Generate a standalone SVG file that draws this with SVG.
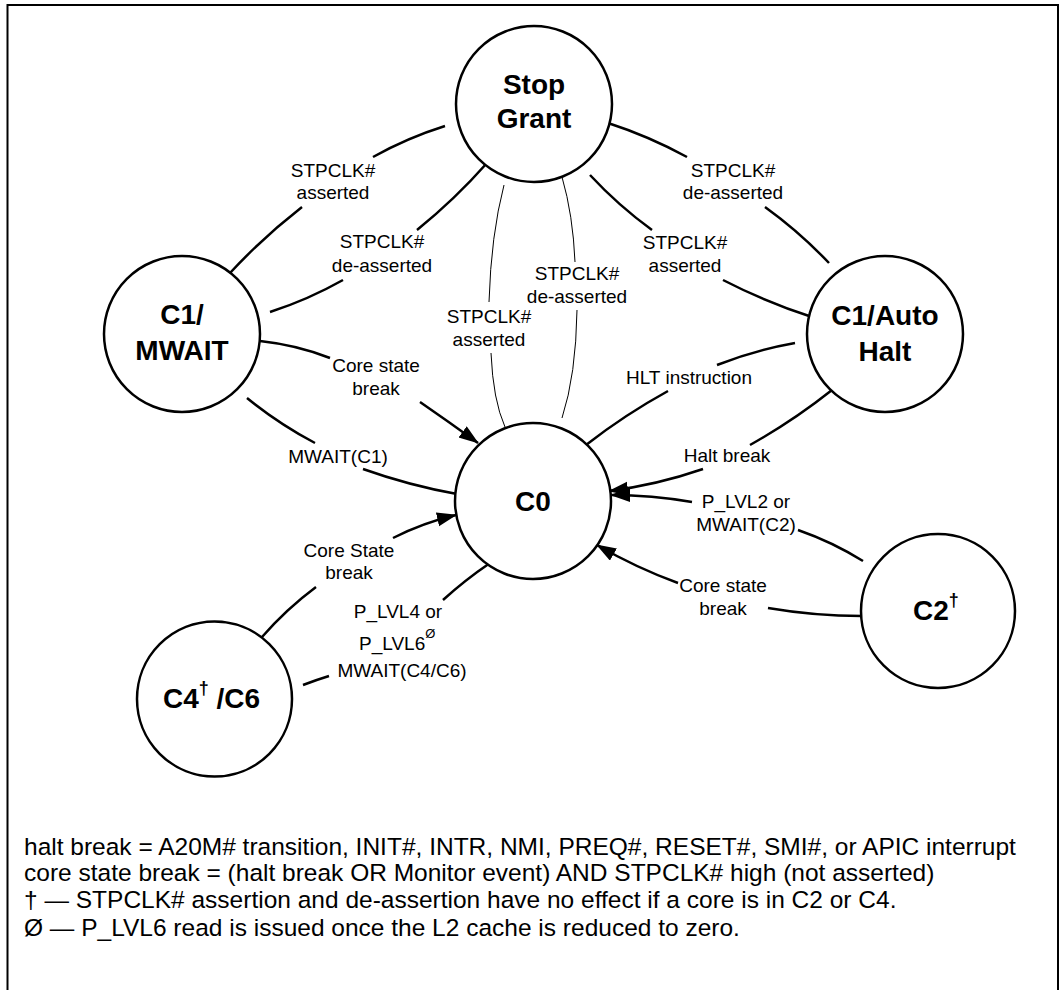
<svg xmlns="http://www.w3.org/2000/svg" width="1060" height="990" viewBox="0 0 1060 990">
<defs>
<marker id="arr" markerUnits="userSpaceOnUse" markerWidth="22" markerHeight="16" viewBox="0 0 22 16" refX="19" refY="7" orient="auto"><path d="M0,0 L20,7 L0,14 z" fill="#000"/></marker>
<style>
.node{fill:#fff;stroke:#000;stroke-width:2.5}
.nt{font-family:"Liberation Sans",Arial,sans-serif;font-weight:bold;font-size:28px;text-anchor:middle;fill:#000}
.c{fill:none;stroke:#000;stroke-width:2.5}
.thin{fill:none;stroke:#000;stroke-width:1}
.lb{font-family:"Liberation Sans",Arial,sans-serif;font-size:19px;text-anchor:middle;fill:#000}
.note{font-family:"Liberation Sans",Arial,sans-serif;font-size:24.5px;fill:#000}
</style>
</defs>
<rect width="1060" height="990" fill="#fff"/>
<path d="M7.5,996 V5 H1058 V996" fill="none" stroke="#000" stroke-width="2"/>

<g id="connectors">
<g id="e-stop-c1mwait-asserted">
<path class="c" d="M445,126 Q407.4,137.8 373,157"/><path class="c" d="M302,207 Q263.3,237.1 230,273"/>
<text class="lb" x="333" y="177">STPCLK#</text><text class="lb" x="333" y="199">asserted</text>
</g>
<g id="e-c1mwait-stop-deasserted">
<path class="c" d="M487,163 Q454.8,199.4 417,230"/><path class="c" d="M343,280 Q308.1,299.7 270,312"/>
<text class="lb" x="382" y="248">STPCLK#</text><text class="lb" x="382" y="272">de-asserted</text>
</g>
<g id="e-stop-c1halt-deasserted">
<path class="c" d="M608,123 Q649.1,136.3 687,157"/><path class="c" d="M765,207 Q799.6,232 829,263"/>
<text class="lb" x="733" y="177">STPCLK#</text><text class="lb" x="733" y="199">de-asserted</text>
</g>
<g id="e-c1halt-stop-asserted">
<path class="c" d="M590,175 Q618.3,205.5 652,230"/><path class="c" d="M723,280 Q766,302.2 812,317"/>
<text class="lb" x="685" y="249">STPCLK#</text><text class="lb" x="685" y="272">asserted</text>
</g>
<g id="e-c0-stop-asserted">
<path class="thin" d="M504,185 Q491,235 489,302"/><path class="thin" d="M491,353 Q493,400 505,427"/>
<text class="lb" x="489" y="323">STPCLK#</text><text class="lb" x="489" y="346">asserted</text>
</g>
<g id="e-stop-c0-deasserted">
<path class="thin" d="M562,177 Q573,215 575,262"/><path class="thin" d="M577,310 Q576,375 562,418"/>
<text class="lb" x="577" y="280">STPCLK#</text><text class="lb" x="577" y="303">de-asserted</text>
</g>
<g id="e-c1mwait-c0-break">
<path class="c" d="M260,341 Q297,345 330,358"/><path class="c" d="M420,402 Q449,422 478,443" marker-end="url(#arr)"/>
<text class="lb" x="376" y="372">Core state</text><text class="lb" x="376" y="395">break</text>
</g>
<g id="e-c0-c1mwait-mwait">
<path class="c" d="M247,398 Q278.8,423.8 315,443"/><path class="c" d="M363,469 Q409,485.4 457,494"/>
<text class="lb" x="338" y="463">MWAIT(C1)</text>
</g>
<g id="e-c4-c0-break">
<path class="c" d="M262,637 Q286.3,609.1 316,587"/><path class="c" d="M393,538 Q423.1,522.7 456,515" marker-end="url(#arr)"/>
<text class="lb" x="349" y="557">Core State</text><text class="lb" x="349" y="579">break</text>
</g>
<g id="e-c0-c4-plvl">
<path class="c" d="M490,563 Q465,580 443,600"/><path class="c" d="M329,676 Q316,680 303,685"/>
<text class="lb" x="398" y="618">P_LVL4 or</text>
<text class="lb" x="359" y="650" style="text-anchor:start">P_LVL6<tspan font-size="13" dy="-12">Ø</tspan></text>
<text class="lb" x="402" y="677">MWAIT(C4/C6)</text>
</g>
<g id="e-c0-c1halt-hlt">
<path class="c" d="M795,343 Q754.9,350.1 717,365"/><path class="c" d="M668,391 Q624.8,414.7 586,445"/>
<text class="lb" x="689" y="384">HLT instruction</text>
</g>
<g id="e-c1halt-c0-break">
<path class="c" d="M832,390 Q793.2,420.8 750,445"/><path class="c" d="M703,469 Q657,484.9 609,491" marker-end="url(#arr)"/>
<text class="lb" x="727" y="462">Halt break</text>
</g>
<g id="e-c0-c2-plvl2">
<path class="c" d="M863,561 Q832.2,541.9 798,530"/><path class="c" d="M692,502 Q651.8,495 611,495" marker-end="url(#arr)"/>
<text class="lb" x="746" y="508">P_LVL2 or</text><text class="lb" x="746" y="531">MWAIT(C2)</text>
</g>
<g id="e-c2-c0-break">
<path class="c" d="M862,616 Q814.7,616 768,608"/><path class="c" d="M678,583 Q635.8,567.6 597,545" marker-end="url(#arr)"/>
<text class="lb" x="723" y="592">Core state</text><text class="lb" x="723" y="615">break</text>
</g>
</g>

<g id="stop-grant"><circle class="node" cx="534" cy="104" r="78"/><text class="nt" x="534" y="94">Stop</text><text class="nt" x="534" y="128">Grant</text></g>
<g id="c1-mwait"><circle class="node" cx="182" cy="334" r="78"/><text class="nt" x="182" y="324">C1/</text><text class="nt" x="182" y="360">MWAIT</text></g>
<g id="c1-auto-halt"><circle class="node" cx="885" cy="334" r="78"/><text class="nt" x="885" y="325">C1/Auto</text><text class="nt" x="885" y="361">Halt</text></g>
<g id="c0"><circle class="node" cx="533" cy="501" r="78"/><text class="nt" x="533" y="511">C0</text></g>
<g id="c2"><circle class="node" cx="938" cy="611" r="77"/><text class="nt" x="913" y="620" style="text-anchor:start">C2<tspan font-size="18" dy="-14">†</tspan></text></g>
<g id="c4-c6"><circle class="node" cx="214.5" cy="699" r="77.5"/><text class="nt" x="163" y="708" style="text-anchor:start">C4<tspan font-size="18" dy="-14">†</tspan><tspan dy="14"> /C6</tspan></text></g>

<g id="notes">
<text class="note" x="24" y="855">halt break = A20M# transition, INIT#, INTR, NMI, PREQ#, RESET#, SMI#, or APIC interrupt</text>
<text class="note" x="24" y="881">core state break = (halt break OR Monitor event) AND STPCLK# high (not asserted)</text>
<text class="note" x="24" y="908">† — STPCLK# assertion and de-assertion have no effect if a core is in C2 or C4.</text>
<text class="note" x="24" y="936">Ø — P_LVL6 read is issued once the L2 cache is reduced to zero.</text>
</g>
</svg>
